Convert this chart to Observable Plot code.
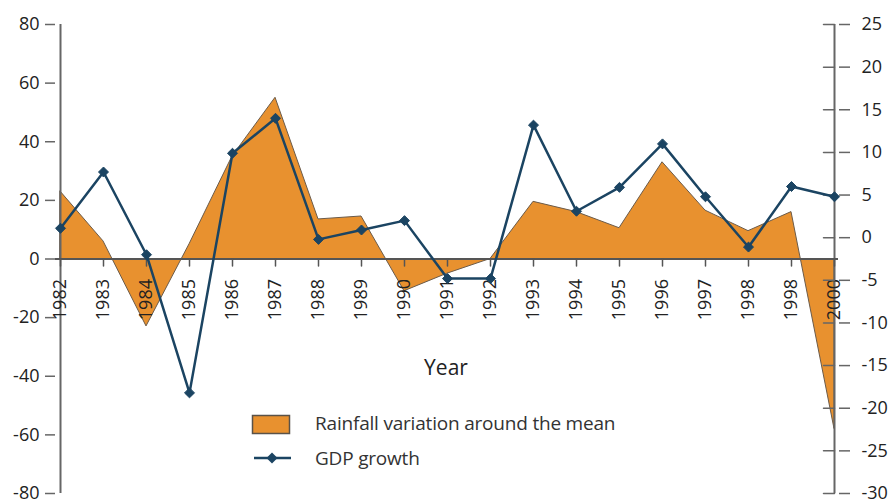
<!DOCTYPE html>
<html>
<head>
<meta charset="utf-8">
<script src="https://cdn.jsdelivr.net/npm/d3@7"></script>
<script src="https://cdn.jsdelivr.net/npm/@observablehq/plot@0.6"></script>
<style>
  html, body { margin: 0; padding: 0; background: #fff; }
  #wrap { position: relative; width: 894px; height: 499px; overflow: hidden; font-family: "Open Sans", sans-serif; }
  .leg { position: absolute; color: #333; font-size: 19px; line-height: 1; white-space: nowrap; letter-spacing: -0.2px; }
  #year { position: absolute; left: 446px; top: 353px; transform: translateX(-50%); font-size: 21px; color: #222; }
</style>
</head>
<body>
<div id="wrap">
  <div id="chart"></div>
  <div id="year">Year</div>
  <svg id="legsvg" width="894" height="499" style="position:absolute;left:0;top:0;pointer-events:none">
    <rect x="252.5" y="415.5" width="37" height="18" fill="#E8912F" stroke="#5a5248" stroke-width="1.5"/>
    <line x1="254" y1="458" x2="291" y2="458" stroke="#1B4462" stroke-width="2.5"/>
    <path d="M272,452.5 L277.5,458 L272,463.5 L266.5,458 Z" fill="#1B4462"/>
  </svg>
  <div class="leg" style="left:315px; top:414px;">Rainfall variation around the mean</div>
  <div class="leg" style="left:315px; top:449px;">GDP growth</div>
</div>
<script>
// Category labels (as printed on the chart, including the repeated "1998")
const yearLabels = ["1982","1983","1984","1985","1986","1987","1988","1989","1990","1991","1992","1993","1994","1995","1996","1997","1998","1998","2000"];
// Rainfall variation around the mean (left axis)
const rainfall = [23, 6, -23, 5, 35, 55, 13.5, 14.5, -11, -5, 0, 19.5, 16, 10.5, 33, 16.5, 9.5, 16, -58];
// GDP growth (right axis)
const gdpGrowth = [1.1, 7.7, -2, -18.2, 9.9, 14, -0.2, 0.9, 2, -4.8, -4.8, 13.2, 3.1, 5.9, 11, 4.8, -1.1, 6, 4.8];
// Axis tick values
const leftTicks = [-80, -60, -40, -20, 0, 20, 40, 60, 80];
const rightTicks = [-30, -25, -20, -15, -10, -5, 0, 5, 10, 15, 20, 25];
const leftDomain = [-80, 80];
const rightDomain = [-30, 25];

// map right-axis value to left-axis units
const toLeft = g => leftDomain[0] + (g - rightDomain[0]) * (leftDomain[1] - leftDomain[0]) / (rightDomain[1] - rightDomain[0]);
const fromLeft = v => rightDomain[0] + (v - leftDomain[0]) * (rightDomain[1] - rightDomain[0]) / (leftDomain[1] - leftDomain[0]);

const data = yearLabels.map((label, i) => ({i, label, rain: rainfall[i], gdp: gdpGrowth[i], gdpL: toLeft(gdpGrowth[i])}));
const idx = data.map(d => d.i);
const lastIdx = idx[idx.length - 1];
const rightTickData = rightTicks.map(g => ({g, v: toLeft(g)}));

const orange = "#E8912F";
const navy = "#1B4462";
const axisGray = "#666";

const tickShape = {draw(ctx, l) { ctx.moveTo(0, 0); ctx.lineTo(0, -l); }};

const chart = Plot.plot({
  width: 894,
  height: 499,
  marginLeft: 55,
  marginRight: 56,
  marginTop: 24,
  marginBottom: 6,
  style: {fontFamily: "Open Sans, sans-serif", fontSize: "18px", color: "#222", background: "white"},
  x: {type: "point", domain: idx, padding: 0, axis: null},
  y: {domain: leftDomain, axis: null},
  marks: [
    Plot.areaY(data, {x: "i", y: "rain", fill: orange, stroke: "#6b5b4a", strokeWidth: 1, curve: "linear"}),
    Plot.ruleX([idx[0], lastIdx], {stroke: axisGray, strokeWidth: 2}),
    Plot.ruleY([0], {stroke: "#555", strokeWidth: 2}),
    Plot.vector(data, {x: "i", y: 0, length: 7, rotate: 180, anchor: "start", shape: tickShape, stroke: "#555", strokeWidth: 1.5}),
    Plot.text(data, {x: "i", y: 0, text: "label", rotate: -90, textAnchor: "end", dy: 20, fill: "#222", fontSize: 18}),
    Plot.axisY(leftTicks, {anchor: "left", tickSize: 10, tickPadding: 6, stroke: axisGray, strokeWidth: 1.5, tickFormat: d => String(d), fill: "#222", fontSize: 18}),
    Plot.axisY(rightTickData.map(d => d.v), {anchor: "right", tickSize: 11, tickPadding: 12, stroke: axisGray, strokeWidth: 1.5, tickFormat: d => String(Math.round(fromLeft(d))), fill: "#222", fontSize: 18}),
    Plot.vector(rightTickData, {x: () => lastIdx, y: "v", length: 11, rotate: -90, anchor: "start", shape: tickShape, stroke: axisGray, strokeWidth: 1.5}),
    Plot.line(data, {x: "i", y: "gdpL", stroke: navy, strokeWidth: 2.5}),
    Plot.dot(data, {x: "i", y: "gdpL", symbol: "diamond2", r: 4.5, fill: navy, stroke: navy, strokeWidth: 1})
  ]
});
document.getElementById("chart").appendChild(chart);
</script>
</body>
</html>
